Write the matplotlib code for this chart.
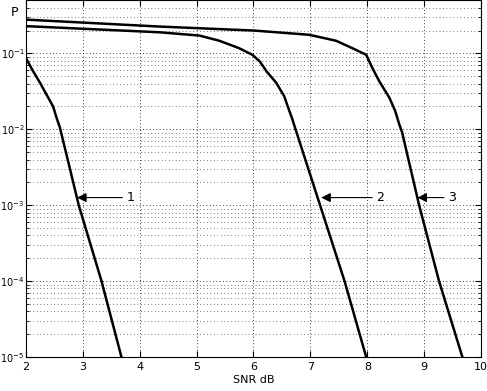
import matplotlib
matplotlib.use('Agg')
import matplotlib.pyplot as plt
import numpy as np

# curve 1
snr1 = [2.0, 2.13, 2.25, 2.36, 2.48, 2.54, 2.6, 2.93, 3.33, 3.68]
p1 = [0.087, 0.058, 0.041, 0.029, 0.020, 0.0142, 0.0105, 1e-3, 1e-4, 1e-5]

# curve 2
snr2 = [2.0, 4.35, 5.05, 5.40, 5.75, 5.98, 6.11, 6.23, 6.40, 6.54, 6.60, 6.68, 6.73, 7.17, 7.6, 7.98]
p2 = [0.229, 0.19, 0.172, 0.147, 0.117, 0.096, 0.0785, 0.058, 0.041, 0.0273, 0.0202, 0.0138, 0.0105, 1e-3, 1e-4, 1e-5]

# curve 3
snr3 = [2.0, 4.35, 6.02, 6.98, 7.45, 7.74, 7.98, 8.09, 8.21, 8.39, 8.49, 8.56, 8.61, 8.91, 9.26, 9.67]
p3 = [0.279, 0.226, 0.2, 0.176, 0.147, 0.117, 0.096, 0.064, 0.043, 0.0259, 0.0174, 0.0117, 0.0092, 1e-3, 1e-4, 1e-5]

# arrow labels: (tip x, tip y, label x)
labels = ['1', '2', '3']
tip_x = [2.9, 7.19, 8.88]
tip_y = [1.26e-3, 1.26e-3, 1.26e-3]
lab_x = [3.77, 8.16, 9.42]

fig = plt.figure(figsize=(4.87, 3.91), dpi=100)
ax = fig.add_axes([0.053, 0.087, 0.935, 0.912])

for x, y in [(snr1, p1), (snr2, p2), (snr3, p3)]:
    ax.semilogy(x, y, color='k', linewidth=1.8)

for lab, tx, ty, lx in zip(labels, tip_x, tip_y, lab_x):
    ax.annotate(lab, xy=(tx, ty), xytext=(lx, ty), fontsize=9,
                ha='left', va='center',
                arrowprops=dict(arrowstyle='-|>', color='k', lw=0.8,
                                mutation_scale=14, shrinkA=1, shrinkB=0))

ax.set_xlim(2, 10)
ax.set_ylim(1e-5, 0.5)
ax.set_xticks(range(2, 11))
ax.set_yticks([1e-5, 1e-4, 1e-3, 1e-2, 1e-1])
ax.grid(True, which='major', linestyle=(0, (1, 3)), color='k', linewidth=0.6)
ax.grid(True, which='minor', axis='y', linestyle=(0, (1, 4)), color='k', linewidth=0.5)
ax.tick_params(which='both', direction='in', top=True, right=True, labelsize=8)
ax.tick_params(axis='y', labelsize=7, pad=1)
ax.tick_params(which='major', length=4)
ax.tick_params(which='minor', length=2)

ax.set_xlabel('SNR dB', fontsize=8, labelpad=2)
fig.text(0.03, 0.985, 'P', fontsize=9, ha='center', va='top')

fig.savefig('out.png', dpi=100)
